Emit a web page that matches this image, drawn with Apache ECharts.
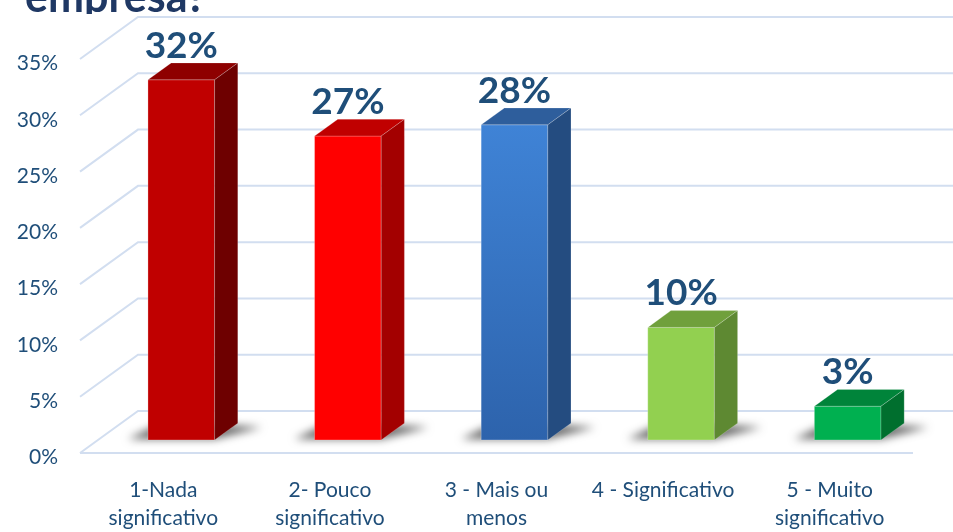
<!DOCTYPE html>
<html>
<head>
<meta charset="utf-8">
<script src="https://cdn.jsdelivr.net/npm/echarts@6/dist/echarts.min.js"></script>
<style>
  html, body { margin: 0; padding: 0; background: #fff; }
  #chart { width: 953px; height: 532px; }
</style>
</head>
<body>
<div id="chart"></div>
<script>
// dados
var categorias = ['1-Nada\nsignificativo', '2- Pouco\nsignificativo', '3 - Mais ou\nmenos', '4 - Significativo', '5 - Muito\nsignificativo'];
var valores = [32, 27, 28, 10, 3];
var yTicks = [0, 5, 10, 15, 20, 25, 30, 35];
var titulo = 'empresa?';

// cores das barras: frente, topo, lado
var corFrente = ['#C00000', '#FF0000', ['#3F83D6', '#2D63AC'], '#92D050', '#00B050'];
var corTopo = ['#8E0000', '#C00000', '#2E5E9C', '#70A03C', '#00843A'];
var corLado = ['#6E0000', '#A30000', '#244C80', '#5E8932', '#006F2E'];

var DX = 58, DY = 42;     // profundidade do "chao"
var D0 = 0.31, D1 = 0.71; // posicao da barra na profundidade
var azul = '#1F4E79';

var chart = echarts.init(document.getElementById('chart'));

function renderGrade(params, api) {
  var cs = params.coordSys;
  var v = api.value(1);
  var y = api.coord([0, v])[1];
  var x0 = cs.x;
  var pts = [[x0, y], [x0 + DX, y - DY], [api.getWidth() + 5, y - DY]];
  var children = [{
    type: 'polyline',
    shape: { points: pts },
    style: { stroke: '#D2DEF0', lineWidth: 2, fill: null }
  }];
  if (v === 0) {
    children.push({
      type: 'line',
      shape: { x1: x0, y1: y, x2: cs.x + cs.width, y2: y },
      style: { stroke: '#D2DEF0', lineWidth: 2 }
    });
  }
  return { type: 'group', children: children };
}

function renderBarra(params, api) {
  var i = api.value(0);
  var v = api.value(1);
  var base = api.coord([i, 0]);
  var topo = api.coord([i, v]);
  var w = api.size([1, 0])[0] * 0.4;
  var fx = base[0] + D0 * DX - w / 2;
  var by = base[1] - D0 * DY;
  var ty = topo[1] - D0 * DY;
  var dx = (D1 - D0) * DX, dy = (D1 - D0) * DY;
  var frente = corFrente[i];
  var fill = Array.isArray(frente) ? new echarts.graphic.LinearGradient(0, 0, 0, 1, [
    { offset: 0, color: frente[0] }, { offset: 1, color: frente[1] }
  ]) : frente;
  var OFF = 3000;
  var sombra = [[fx - 20, by - 1], [fx + w, by - 1], [fx + w + dx + 24, by - dy + 4], [fx + dx - 6, by - dy - 2]];
  return {
    type: 'group',
    children: [{
      type: 'polygon',
      shape: { points: sombra.map(function (p) { return [p[0] - OFF, p[1]]; }) },
      style: { fill: '#000', shadowBlur: 9, shadowColor: 'rgba(0,0,0,0.6)', shadowOffsetX: OFF }
    }, {
      type: 'rect',
      shape: { x: fx, y: ty, width: w, height: by - ty },
      style: { fill: fill, stroke: 'rgba(255,255,255,0.25)', lineWidth: 1 }
    }, {
      type: 'polygon',
      shape: { points: [[fx, ty], [fx + w, ty], [fx + w + dx, ty - dy], [fx + dx, ty - dy]] },
      style: { fill: corTopo[i], stroke: 'rgba(255,255,255,0.2)', lineWidth: 1 }
    }, {
      type: 'polygon',
      shape: { points: [[fx + w, ty], [fx + w + dx, ty - dy], [fx + w + dx, by - dy], [fx + w, by]] },
      style: { fill: corLado[i], stroke: 'rgba(255,255,255,0.2)', lineWidth: 1 }
    }, {
      type: 'text',
      x: fx + w / 2,
      y: ty - 34,
      style: {
        text: v + '%', fill: azul, font: 'bold 37px Lato',
        align: 'center', verticalAlign: 'middle'
      }
    }]
  };
}

var option = {
  backgroundColor: '#fff',
  animation: false,
  grid: { left: 80, width: 833, top: 59, height: 400 },
  xAxis: {
    type: 'category',
    data: categorias,
    axisLine: { show: false },
    axisTick: { show: false },
    axisLabel: {
      color: azul, fontFamily: 'Lato', fontSize: 21, lineHeight: 28, margin: 23,
      interval: 0
    }
  },
  yAxis: {
    type: 'value',
    min: 0, max: 35, interval: 5,
    splitLine: { show: false },
    axisLine: { show: false },
    axisTick: { show: false },
    axisLabel: {
      margin: 22,
      formatter: function (v) { return '{t|' + v + '%}'; },
      rich: {
        t: { color: azul, fontFamily: 'Lato', fontSize: 21, padding: [9, 0, 0, 0] }
      }
    }
  },
  graphic: [{
    type: 'text', left: 25, top: -23, z: 10,
    style: { text: titulo, fill: '#1F3864', font: 'bold 43px Lato' }
  }, {
    type: 'rect', z: 11,
    shape: { x: 70, y: 14, width: 45, height: 14 },
    style: { fill: '#fff' }
  }],
  series: [{
    type: 'custom',
    renderItem: renderGrade,
    data: yTicks.map(function (v) { return [0, v]; }),
    silent: true,
    z: 1
  }, {
    type: 'custom',
    renderItem: renderBarra,
    data: valores.map(function (v, i) { return [i, v]; }),
    z: 2
  }]
};
chart.setOption(option);
</script>
</body>
</html>
